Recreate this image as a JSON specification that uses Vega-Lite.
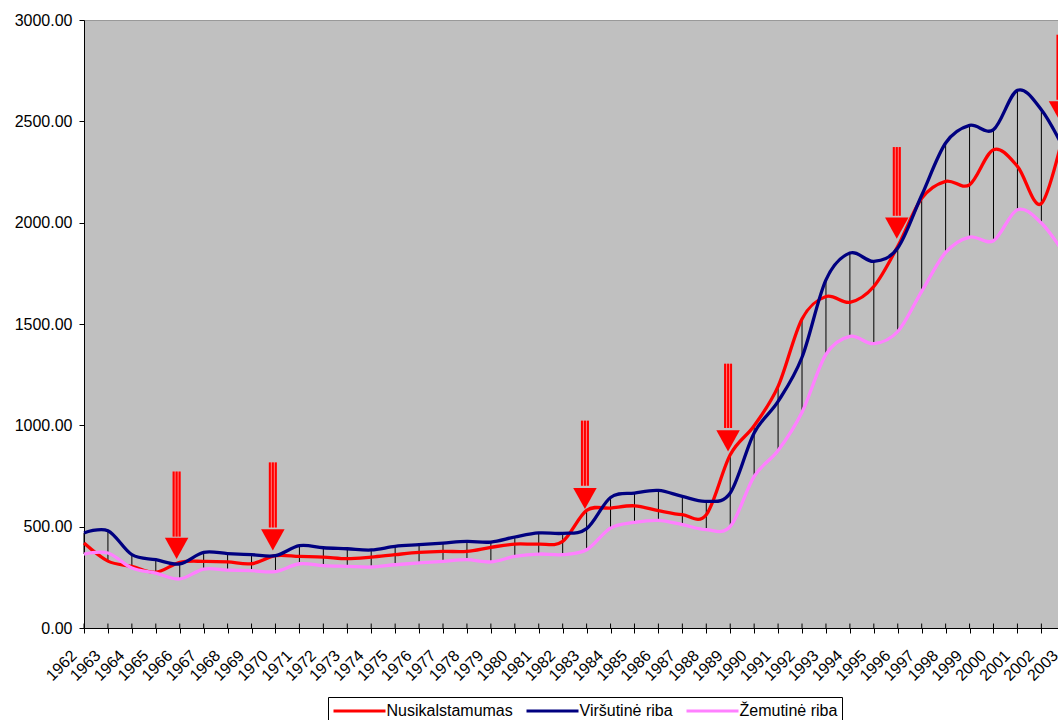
{
  "$schema": "https://vega.github.io/schema/vega-lite/v6.json",
  "autosize": "none",
  "padding": {"left": 84, "top": 20, "right": 0, "bottom": 92},
  "width": 974,
  "height": 608,
  "background": "white",
  "config": {
    "font": "Liberation Sans",
    "view": {"fill": "#c0c0c0", "stroke": "#999999", "strokeWidth": 1},
    "axisX": {"domainColor": "black", "tickColor": "black", "tickSize": 5, "labelFontSize": 16, "labelAngle": -45, "labelColor": "black", "grid": false, "labelFont": "Liberation Sans", "labelPadding": 14, "labelOffset": -16},
    "axisY": {"domainColor": "black", "tickColor": "black", "tickSize": 5, "labelFontSize": 16, "labelColor": "black", "grid": false, "labelFont": "Liberation Sans", "labelPadding": 7}
  },
  "datasets": {
    "series": [
      {"year": 1962, "Nusikalstamumas": 419, "Viršutinė riba": 469, "Žemutinė riba": 365},
      {"year": 1963, "Nusikalstamumas": 330, "Viršutinė riba": 480, "Žemutinė riba": 370},
      {"year": 1964, "Nusikalstamumas": 304, "Viršutinė riba": 362, "Žemutinė riba": 296},
      {"year": 1965, "Nusikalstamumas": 275, "Viršutinė riba": 337, "Žemutinė riba": 271},
      {"year": 1966, "Nusikalstamumas": 324, "Viršutinė riba": 316, "Žemutinė riba": 242},
      {"year": 1967, "Nusikalstamumas": 329, "Viršutinė riba": 373, "Žemutinė riba": 291},
      {"year": 1968, "Nusikalstamumas": 326, "Viršutinė riba": 367, "Žemutinė riba": 286},
      {"year": 1969, "Nusikalstamumas": 317, "Viršutinė riba": 362, "Žemutinė riba": 283},
      {"year": 1970, "Nusikalstamumas": 357, "Viršutinė riba": 357, "Žemutinė riba": 278},
      {"year": 1971, "Nusikalstamumas": 353, "Viršutinė riba": 406, "Žemutinė riba": 317},
      {"year": 1972, "Nusikalstamumas": 350, "Viršutinė riba": 396, "Žemutinė riba": 308},
      {"year": 1973, "Nusikalstamumas": 342, "Viršutinė riba": 391, "Žemutinė riba": 304},
      {"year": 1974, "Nusikalstamumas": 350, "Viršutinė riba": 385, "Žemutinė riba": 301},
      {"year": 1975, "Nusikalstamumas": 362, "Viršutinė riba": 403, "Žemutinė riba": 312},
      {"year": 1976, "Nusikalstamumas": 373, "Viršutinė riba": 411, "Žemutinė riba": 321},
      {"year": 1977, "Nusikalstamumas": 378, "Viršutinė riba": 419, "Žemutinė riba": 329},
      {"year": 1978, "Nusikalstamumas": 378, "Viršutinė riba": 427, "Žemutinė riba": 337},
      {"year": 1979, "Nusikalstamumas": 398, "Viršutinė riba": 424, "Žemutinė riba": 326},
      {"year": 1980, "Nusikalstamumas": 414, "Viršutinė riba": 449, "Žemutinė riba": 353},
      {"year": 1981, "Nusikalstamumas": 414, "Viršutinė riba": 469, "Žemutinė riba": 365},
      {"year": 1982, "Nusikalstamumas": 427, "Viršutinė riba": 467, "Žemutinė riba": 362},
      {"year": 1983, "Nusikalstamumas": 580, "Viršutinė riba": 490, "Žemutinė riba": 386},
      {"year": 1984, "Nusikalstamumas": 592, "Viršutinė riba": 644, "Žemutinė riba": 493},
      {"year": 1985, "Nusikalstamumas": 603, "Viršutinė riba": 666, "Žemutinė riba": 521},
      {"year": 1986, "Nusikalstamumas": 579, "Viršutinė riba": 679, "Žemutinė riba": 531},
      {"year": 1987, "Nusikalstamumas": 559, "Viršutinė riba": 649, "Žemutinė riba": 510},
      {"year": 1988, "Nusikalstamumas": 559, "Viršutinė riba": 625, "Žemutinė riba": 485},
      {"year": 1989, "Nusikalstamumas": 855, "Viršutinė riba": 666, "Žemutinė riba": 501},
      {"year": 1990, "Nusikalstamumas": 998, "Viršutinė riba": 962, "Žemutinė riba": 748},
      {"year": 1991, "Nusikalstamumas": 1192, "Viršutinė riba": 1118, "Žemutinė riba": 876},
      {"year": 1992, "Nusikalstamumas": 1525, "Viršutinė riba": 1336, "Žemutinė riba": 1065},
      {"year": 1993, "Nusikalstamumas": 1636, "Viršutinė riba": 1718, "Žemutinė riba": 1350},
      {"year": 1994, "Nusikalstamumas": 1607, "Viršutinė riba": 1850, "Žemutinė riba": 1439},
      {"year": 1995, "Nusikalstamumas": 1685, "Viršutinė riba": 1809, "Žemutinė riba": 1403},
      {"year": 1996, "Nusikalstamumas": 1883, "Viršutinė riba": 1875, "Žemutinė riba": 1463},
      {"year": 1997, "Nusikalstamumas": 2120, "Viršutinė riba": 2135, "Žemutinė riba": 1661},
      {"year": 1998, "Nusikalstamumas": 2204, "Viršutinė riba": 2393, "Žemutinė riba": 1853},
      {"year": 1999, "Nusikalstamumas": 2187, "Viršutinė riba": 2480, "Žemutinė riba": 1929},
      {"year": 2000, "Nusikalstamumas": 2360, "Viršutinė riba": 2459, "Žemutinė riba": 1911},
      {"year": 2001, "Nusikalstamumas": 2278, "Viršutinė riba": 2653, "Žemutinė riba": 2064},
      {"year": 2002, "Nusikalstamumas": 2094, "Viršutinė riba": 2557, "Žemutinė riba": 1998},
      {"year": 2003, "Nusikalstamumas": 2480, "Viršutinė riba": 2350, "Žemutinė riba": 1840}
    ],
    "arrows": [
      {"year": 1965.87, "top": 772, "base": 451, "tip": 341},
      {"year": 1969.89, "top": 817, "base": 496, "tip": 383},
      {"year": 1982.93, "top": 1023, "base": 702, "tip": 587},
      {"year": 1988.91, "top": 1304, "base": 987, "tip": 871},
      {"year": 1995.96, "top": 2373, "base": 2034, "tip": 1921},
      {"year": 2002.8, "top": 2927, "base": 2607, "tip": 2495}
    ]
  },
  "encoding": {
    "x": {
      "field": "year",
      "type": "quantitative",
      "title": null,
      "scale": {"domain": [1962, 2003], "range": [0, 981.3], "nice": false, "zero": false},
      "axis": {
        "values": [1962,1963,1964,1965,1966,1967,1968,1969,1970,1971,1972,1973,1974,1975,1976,1977,1978,1979,1980,1981,1982,1983,1984,1985,1986,1987,1988,1989,1990,1991,1992,1993,1994,1995,1996,1997,1998,1999,2000,2001,2002,2003],
        "format": "d",
        "labelOverlap": false,
        "labelFlush": false,
        "labelBound": false
      }
    }
  },
  "layer": [
    {
      "data": {"name": "series"},
      "mark": {"type": "rule", "color": "black", "strokeWidth": 1},
      "encoding": {
        "y": {"datum": 0, "type": "quantitative", "title": null,
              "scale": {"domain": [0, 3000], "nice": false},
              "axis": {"values": [0, 500, 1000, 1500, 2000, 2500, 3000], "format": ".2f"}},
        "y2": {"datum": 22}
      }
    },
    {
      "data": {"name": "series"},
      "transform": [
        {"fold": ["Nusikalstamumas", "Viršutinė riba", "Žemutinė riba"], "as": ["series", "value"]},
        {"aggregate": [{"op": "min", "field": "value", "as": "lo"}, {"op": "max", "field": "value", "as": "hi"}], "groupby": ["year"]}
      ],
      "mark": {"type": "rule", "color": "black", "strokeWidth": 1},
      "encoding": {
        "y": {"field": "lo", "type": "quantitative", "title": null},
        "y2": {"field": "hi"}
      }
    },
    {
      "data": {"name": "series"},
      "transform": [
        {"fold": ["Nusikalstamumas", "Viršutinė riba", "Žemutinė riba"], "as": ["series", "value"]}
      ],
      "mark": {"type": "line", "interpolate": "cardinal", "strokeWidth": 3.3},
      "encoding": {
        "y": {"field": "value", "type": "quantitative", "title": null},
        "color": {
          "field": "series",
          "type": "nominal",
          "sort": ["Nusikalstamumas", "Viršutinė riba", "Žemutinė riba"],
          "scale": {"domain": ["Nusikalstamumas", "Viršutinė riba", "Žemutinė riba"], "range": ["#ff0000", "#000080", "#ff80ff"]},
          "legend": {
            "orient": "none", "legendX": 244, "legendY": 677,
            "direction": "horizontal", "columns": 3, "title": null,
            "symbolType": "M -3.059 0 L 3.059 0", "symbolSize": 289, "symbolStrokeWidth": 3, "symbolOffset": 17.5,
            "labelFontSize": 16, "labelFont": "Liberation Sans", "labelColor": "black",
            "strokeColor": "black", "fillColor": "white", "padding": 4,
            "columnPadding": 7, "labelOffset": 17, "cornerRadius": 0
          }
        }
      }
    },
    {
      "data": {"name": "arrows"},
      "mark": {"type": "rule", "color": "#ff7a7a", "strokeWidth": 8},
      "encoding": {"y": {"field": "top", "type": "quantitative", "title": null}, "y2": {"field": "base"}}
    },
    {
      "data": {"name": "arrows"},
      "mark": {"type": "rule", "color": "#ff0000", "strokeWidth": 2, "xOffset": -3},
      "encoding": {"y": {"field": "top", "type": "quantitative", "title": null}, "y2": {"field": "base"}}
    },
    {
      "data": {"name": "arrows"},
      "mark": {"type": "rule", "color": "#ff0000", "strokeWidth": 2, "xOffset": 0},
      "encoding": {"y": {"field": "top", "type": "quantitative", "title": null}, "y2": {"field": "base"}}
    },
    {
      "data": {"name": "arrows"},
      "mark": {"type": "rule", "color": "#ff0000", "strokeWidth": 2, "xOffset": 3},
      "encoding": {"y": {"field": "top", "type": "quantitative", "title": null}, "y2": {"field": "base"}}
    },
    {
      "data": {"name": "arrows"},
      "mark": {"type": "point", "shape": "M -1 -1.8 L 1 -1.8 L 0 0 Z", "filled": true, "size": 552, "color": "#ff0000", "opacity": 1, "strokeWidth": 0},
      "encoding": {"y": {"field": "tip", "type": "quantitative", "title": null}}
    }
  ]
}
